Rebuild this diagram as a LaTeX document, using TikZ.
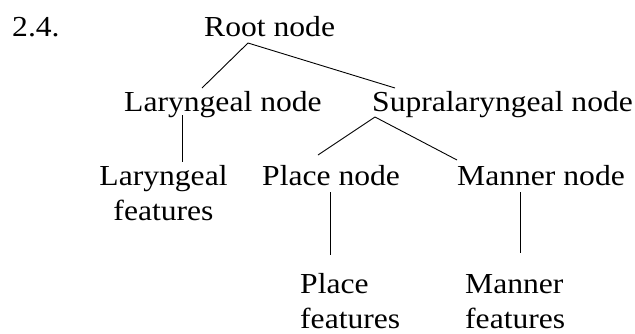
\documentclass[tikz,border=0pt]{standalone}
\usepackage{fontspec}
\setmainfont{Liberation Serif}[FakeStretch=1.09]
\usetikzlibrary{calc}

\begin{document}
\begin{tikzpicture}[
  x=1pt, y=-1pt,
  every node/.style={inner sep=0pt, anchor=base west,
                     font=\fontsize{29}{35}\selectfont},
  branch/.style={line width=0.9pt},
  twoLine/.style={align=left}
]
  \useasboundingbox (0,0) rectangle (635,333);

  % Example number and root
  \node (num) at (12,36) {2.4.};
  \node (root) at (204,36) {Root node};

  % Second tier
  \node (lar) at (124,111) {Laryngeal node};
  \node (supra) at (372,111) {Supralaryngeal node};

  % Third tier (two-line nodes sit on their last baseline)
  \node[align=center, anchor=base] (larFeat) at (163.5,220) {Laryngeal\\features};
  \node (place) at (262,185) {Place node};
  \node (manner) at (457,185) {Manner node};

  % Terminal features
  \node[twoLine] (placeFeat) at (300,328) {Place\\features};
  \node[twoLine] (mannerFeat) at (465,328) {Manner\\features};

  % Branches from root
  \coordinate (rootFoot) at ($(root.base west)+(44,7)$);
  \draw[branch] (rootFoot) -- ($(lar.base west)+(78,-23)$);
  \draw[branch] (rootFoot) -- ($(supra.base west)+(23,-23)$);

  % Laryngeal branch
  \draw[branch] ($(lar.base west)+(58,4)$) -- ($(larFeat.base)+(18.5,-58)$);

  % Branches from supralaryngeal
  \coordinate (supraFoot) at ($(supra.base west)+(3,6)$);
  \draw[branch] (supraFoot) -- ($(place.base west)+(56,-30)$);
  \draw[branch] (supraFoot) -- ($(manner.base west)+(0,-25)$);

  % Feature branches
  \draw[branch] ($(place.base west)+(68,7)$) -- ($(placeFeat.base west)+(30,-73)$);
  \draw[branch] ($(manner.base west)+(63,7)$) -- ($(mannerFeat.base west)+(55,-75)$);
\end{tikzpicture}
\end{document}
